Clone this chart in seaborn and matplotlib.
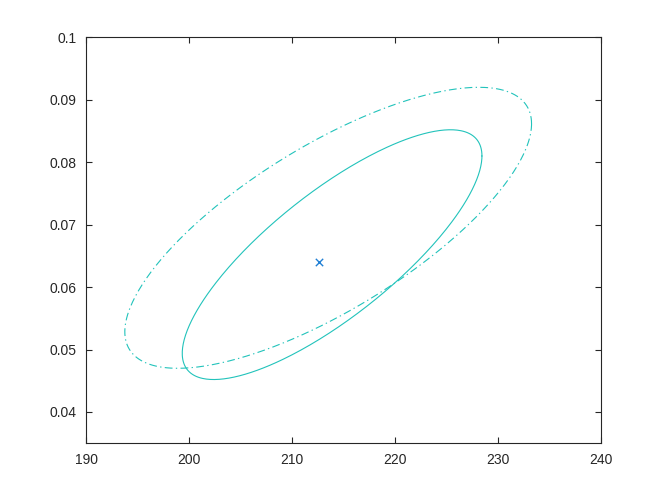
import numpy as np
import pandas as pd
import matplotlib
matplotlib.use('Agg')
import matplotlib.pyplot as plt
import seaborn as sns

# estimate (marker)
est_x = [212.65]
est_y = [0.0641]

# confidence ellipses: centre, half-extent along x and y, correlation
ell_names = ['solid', 'dashdot']
ell_cx = [213.88, 213.50]
ell_cy = [0.0652, 0.0695]
ell_sx = [14.56, 19.76]
ell_sy = [0.0200, 0.0225]
ell_rho = [0.790, 0.740]

xticks = [190, 200, 210, 220, 230, 240]
yticks = [0.04, 0.05, 0.06, 0.07, 0.08, 0.09, 0.1]
ytick_labels = ['0.04', '0.05', '0.06', '0.07', '0.08', '0.09', '0.1']

line_color = '#22c3bb'
mark_color = '#1f7fd4'

sns.set_theme(style='white')
plt.rcParams['font.family'] = ['Liberation Sans', 'DejaVu Sans']

fig = plt.figure(figsize=(6.64, 4.98), dpi=100)
ax = fig.add_axes([0.13, 0.11, 0.775, 0.815])

t = np.linspace(0, 2 * np.pi, 400)
frames = []
for name, cx, cy, sx, sy, r in zip(ell_names, ell_cx, ell_cy, ell_sx, ell_sy, ell_rho):
    xs = cx + sx * np.cos(t)
    ys = cy + sy * (r * np.cos(t) + np.sqrt(1 - r ** 2) * np.sin(t))
    frames.append(pd.DataFrame({'x': xs, 'y': ys, 'kind': name}))
ellipses = pd.concat(frames, ignore_index=True)

for name in ell_names:
    d = ellipses[ellipses['kind'] == name]
    sns.lineplot(data=d, x='x', y='y', sort=False, estimator=None, ax=ax,
                 color=line_color, linewidth=0.8)
    if name == 'dashdot':
        ax.get_lines()[-1].set_dashes([7, 3, 1.2, 3])

sns.scatterplot(x=est_x, y=est_y, marker='x', color=mark_color, s=28,
                linewidth=1.0, ax=ax)

ax.set_xlim(190, 240)
ax.set_ylim(0.035, 0.1)
ax.set_xticks(xticks)
ax.set_yticks(yticks)
ax.set_yticklabels(ytick_labels)
ax.set_xlabel('')
ax.set_ylabel('')
ax.tick_params(direction='in', length=4, width=0.8, color='#262626',
               labelsize=10, labelcolor='#262626', top=True, right=True,
               bottom=True, left=True, pad=7)
for s in ax.spines.values():
    s.set_color('#262626')
    s.set_linewidth(0.8)

fig.savefig('out.png', dpi=100)
